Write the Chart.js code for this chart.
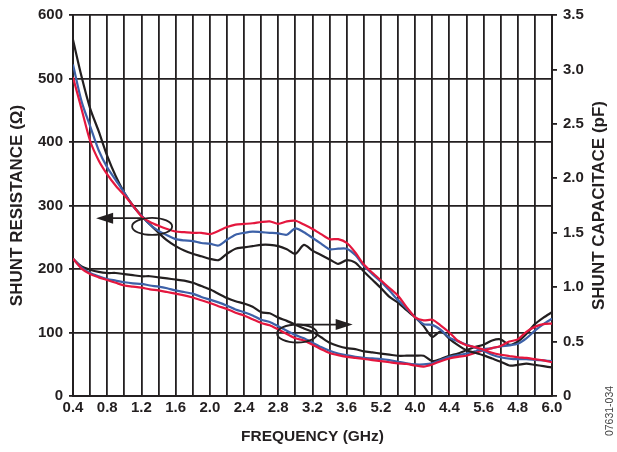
<!DOCTYPE html>
<html>
<head>
<meta charset="utf-8">
<script src="https://cdn.jsdelivr.net/npm/chart.js@4.4.1/dist/chart.umd.min.js"></script>
<style>
  body { margin: 0; background: #fff; }
  #wrap { width: 617px; height: 452px; }
</style>
</head>
<body>
<div id="wrap"><canvas id="chart" width="617" height="452"></canvas></div>
<script>
// frequency points (GHz)
const freq = [0.4, 0.5, 0.6, 0.7, 0.8, 0.9, 1.0, 1.1, 1.2, 1.3, 1.4, 1.5, 1.6, 1.7, 1.8, 1.9,
  2.0, 2.1, 2.2, 2.3, 2.4, 2.5, 2.6, 2.7, 2.8, 2.9, 3.0, 3.1, 3.2, 3.3, 3.4, 3.5,
  3.6, 3.7, 3.8, 3.9, 4.0, 4.1, 4.2, 4.3, 4.4, 4.5, 4.6, 4.7, 4.8, 4.9, 5.0, 5.1,
  5.2, 5.3, 5.4, 5.5, 5.6, 5.7, 5.8, 5.9, 6.0];

// shunt resistance (ohm), left axis
const resBlack = [561, 503, 453, 417, 378, 346, 320, 300, 284, 270, 257, 245, 236, 229, 224, 220,
  216, 214, 224, 232, 234, 236, 238, 238, 236, 231, 224, 238, 229, 222, 215, 208,
  214, 210, 196, 183, 170, 156, 147, 135, 124, 110, 93, 102, 90, 80, 72, 68,
  64, 59, 54, 48, 49, 51, 49, 47, 45];
const resBlue = [522, 464, 425, 387, 360, 340, 320, 299, 284, 270, 260, 253, 247, 245, 244, 241,
  240, 237, 246, 254, 257, 259, 258, 257, 256, 254, 264, 258, 249, 240, 231, 232,
  232, 222, 205, 192, 180, 166, 151, 138, 124, 113, 112, 104, 92, 86, 81, 76,
  71, 65, 61, 59, 58, 58, 57, 56, 55];
const resRed = [502, 452, 402, 371, 349, 331, 316, 300, 283, 274, 268, 263, 259, 258, 257, 257,
  255, 260, 266, 270, 271, 272, 274, 275, 271, 275, 276, 270, 263, 255, 247, 247,
  241, 226, 207, 194, 182, 170, 158, 140, 124, 119, 120, 111, 100, 87, 80, 77,
  73, 68, 65, 63, 61, 60, 58, 56, 53];

// shunt capacitance (pF), right axis
const capBlack = [1.26, 1.19, 1.16, 1.14, 1.13, 1.13, 1.12, 1.11, 1.10, 1.10, 1.09, 1.08, 1.07, 1.06, 1.04, 1.01,
  0.98, 0.94, 0.90, 0.87, 0.85, 0.82, 0.77, 0.76, 0.72, 0.69, 0.655, 0.62, 0.59, 0.54, 0.49, 0.46,
  0.44, 0.43, 0.41, 0.40, 0.39, 0.38, 0.37, 0.37, 0.37, 0.37, 0.32, 0.34, 0.37, 0.39, 0.42, 0.45,
  0.47, 0.51, 0.52, 0.47, 0.50, 0.57, 0.66, 0.72, 0.77];
const capBlue = [1.26, 1.18, 1.13, 1.10, 1.075, 1.06, 1.045, 1.035, 1.03, 1.015, 1.005, 0.99, 0.97, 0.955, 0.94, 0.91,
  0.885, 0.86, 0.83, 0.795, 0.77, 0.74, 0.70, 0.68, 0.64, 0.60, 0.56, 0.53, 0.49, 0.45, 0.415, 0.39,
  0.375, 0.36, 0.35, 0.345, 0.34, 0.33, 0.315, 0.30, 0.29, 0.29, 0.30, 0.33, 0.36, 0.375, 0.39, 0.41,
  0.43, 0.44, 0.455, 0.465, 0.48, 0.53, 0.60, 0.66, 0.71];
const capRed = [1.26, 1.17, 1.12, 1.09, 1.065, 1.04, 1.015, 1.005, 0.995, 0.98, 0.97, 0.955, 0.94, 0.925, 0.905, 0.88,
  0.855, 0.825, 0.80, 0.765, 0.74, 0.705, 0.67, 0.65, 0.61, 0.57, 0.53, 0.51, 0.47, 0.43, 0.395, 0.375,
  0.36, 0.35, 0.34, 0.33, 0.32, 0.31, 0.30, 0.295, 0.28, 0.27, 0.29, 0.32, 0.345, 0.36, 0.37, 0.395,
  0.42, 0.44, 0.46, 0.50, 0.52, 0.59, 0.635, 0.66, 0.665];

// tick labels (as printed on the original, including its odd ones)
const freqLabels = ['0.4', '0.8', '1.2', '1.6', '2.0', '2.4', '2.8', '3.2', '3.6', '5.2', '4.0', '4.4', '5.6', '4.8', '6.0'];
const capLabels = ['0', '0.5', '1.0', '1.5', '2.0', '2.5', '3.0', '3.5'];

// callouts: ellipse centre + arrow (freq from -> to, level)
const resEllipse = [1.325, 267];
const resArrow = [1.2, 0.67, 280];
const capEllipse = [3.02, 0.574];
const capArrow = [3.02, 3.67, 0.656];

const INK = '#231f20';
const FONT = "'Liberation Sans', Arial, sans-serif";

function pts(ys) {
    return freq.map((f, i) => ({ x: f, y: ys[i] }));
}

function line(data, color, axis) {
    return {
        data: pts(data),
        yAxisID: axis,
        borderColor: color,
        borderWidth: 2.2,
        pointRadius: 0,
        tension: 0.25,
        fill: false
    };
}

function arrowHead(ctx, x, y, dir) {
    ctx.beginPath();
    ctx.moveTo(x, y);
    ctx.lineTo(x - dir * 17, y - 5.5);
    ctx.lineTo(x - dir * 17, y + 5.5);
    ctx.closePath();
    ctx.fill();
}

const extras = {
    id: 'extras',
    afterDraw(chart) {
        const { ctx, scales } = chart;
        const x = scales.x, y = scales.y, y1 = scales.y1;
        ctx.save();
        ctx.strokeStyle = INK;
        ctx.fillStyle = INK;
        ctx.lineWidth = 1.8;

        // resistance callout, arrow to the left
        ctx.beginPath();
        ctx.ellipse(x.getPixelForValue(resEllipse[0]), y.getPixelForValue(resEllipse[1]), 20, 8.5, 0, 0, Math.PI * 2);
        ctx.stroke();
        let ay = y.getPixelForValue(resArrow[2]);
        ctx.beginPath();
        ctx.moveTo(x.getPixelForValue(resArrow[0]), ay);
        ctx.lineTo(x.getPixelForValue(resArrow[1]) + 10, ay);
        ctx.stroke();
        arrowHead(ctx, x.getPixelForValue(resArrow[1]), ay, -1);

        // capacitance callout, arrow to the right
        ctx.beginPath();
        ctx.ellipse(x.getPixelForValue(capEllipse[0]), y1.getPixelForValue(capEllipse[1]), 20, 9, 0, 0, Math.PI * 2);
        ctx.stroke();
        ay = y1.getPixelForValue(capArrow[2]);
        ctx.beginPath();
        ctx.moveTo(x.getPixelForValue(capArrow[0]), ay);
        ctx.lineTo(x.getPixelForValue(capArrow[1]) - 10, ay);
        ctx.stroke();
        arrowHead(ctx, x.getPixelForValue(capArrow[1]), ay, 1);

        // right axis title reads bottom to top
        ctx.font = 'bold 17px ' + FONT;
        ctx.textAlign = 'center';
        ctx.textBaseline = 'middle';
        ctx.translate(599, (chart.chartArea.top + chart.chartArea.bottom) / 2);
        ctx.rotate(-Math.PI / 2);
        ctx.fillText('SHUNT CAPACITACE (pF)', 0, 0);
        ctx.restore();

        // figure code
        ctx.save();
        ctx.font = '10.5px ' + FONT;
        ctx.fillStyle = '#444';
        ctx.textAlign = 'center';
        ctx.textBaseline = 'middle';
        ctx.translate(610, 411);
        ctx.rotate(-Math.PI / 2);
        ctx.fillText('07631-034', 0, 0);
        ctx.restore();
    }
};

new Chart(document.getElementById('chart'), {
    type: 'line',
    data: {
        datasets: [
            line(resRed, '#e4173e', 'y'),
            line(resBlue, '#3d61a8', 'y'),
            line(resBlack, INK, 'y'),
            line(capRed, '#e4173e', 'y1'),
            line(capBlue, '#3d61a8', 'y1'),
            line(capBlack, INK, 'y1')
        ]
    },
    options: {
        responsive: false,
        animation: false,
        devicePixelRatio: 1,
        layout: { padding: { top: 8, left: 0, right: 0, bottom: 0 } },
        plugins: {
            legend: { display: false },
            tooltip: { enabled: false }
        },
        scales: {
            x: {
                type: 'linear',
                min: 0.4,
                max: 6.0,
                afterBuildTicks: (scale) => {
                    scale.ticks = freq.filter((f, i) => i % 2 === 0).map(v => ({ value: v }));
                },
                afterFit: (scale) => { scale.height = 56; },
                grid: { color: INK, lineWidth: 1.8, drawTicks: false },
                border: { color: INK, width: 2 },
                ticks: {
                    autoSkip: false,
                    maxRotation: 0,
                    padding: 3,
                    color: INK,
                    font: { family: FONT, size: 15, weight: 'bold' },
                    callback: (v, i) => (i % 2 === 0 ? freqLabels[i / 2] : '')
                },
                title: {
                    display: true,
                    text: 'FREQUENCY (GHz)',
                    color: INK,
                    font: { family: FONT, size: 15.5, weight: 'bold' },
                    padding: { top: 0, bottom: 6 }
                }
            },
            y: {
                position: 'left',
                min: 0,
                max: 600,
                afterFit: (scale) => { scale.width = 73; },
                grid: { color: INK, lineWidth: 1.8, tickLength: 4 },
                border: { color: INK, width: 2 },
                ticks: {
                    stepSize: 100,
                    padding: 6,
                    color: INK,
                    font: { family: FONT, size: 15, weight: 'bold' }
                },
                title: {
                    display: true,
                    text: 'SHUNT RESISTANCE (Ω)',
                    color: INK,
                    font: { family: FONT, size: 17, weight: 'bold' },
                    padding: { top: 7, bottom: 0 }
                }
            },
            y1: {
                position: 'right',
                min: 0,
                max: 3.5,
                afterFit: (scale) => { scale.width = 65; },
                grid: { color: INK, lineWidth: 1.8, tickLength: 5, drawOnChartArea: false },
                border: { color: INK, width: 2 },
                ticks: {
                    stepSize: 0.5,
                    padding: 6,
                    color: INK,
                    font: { family: FONT, size: 15, weight: 'bold' },
                    callback: (v, i) => capLabels[i]
                }
            }
        }
    },
    plugins: [extras]
});
</script>
</body>
</html>
